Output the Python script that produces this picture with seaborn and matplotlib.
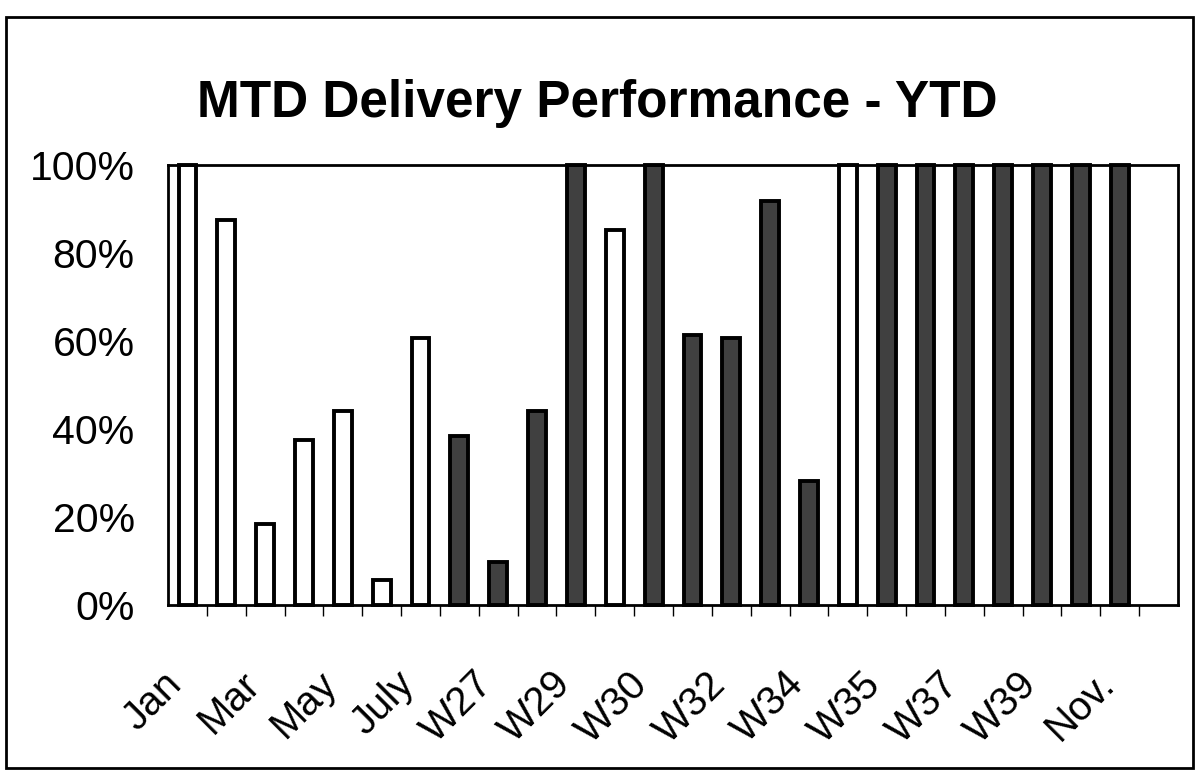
import numpy as np
import pandas as pd
import matplotlib
matplotlib.use("Agg")
import matplotlib.pyplot as plt
import matplotlib.transforms as mtransforms
from matplotlib.patches import Rectangle
import seaborn as sns

# categories along the x axis (only every other label is shown, like Excel did)
categories = ["Jan", "Feb", "Mar", "Apr", "May", "June", "July",
              "W26", "W27", "W28", "W29", "Aug", "W30", "W31", "W32",
              "W33", "W34", "Sept", "W35", "W36", "W37", "W38", "W39",
              "Oct", "Nov.", "Dec"]

# MTD delivery performance, percent
performance = [100, 87.5, 18.5, 37.5, 44, 5.7, 60.8,
               38.4, 9.8, 44, 100, 85.3, 100, 61.3, 60.6,
               91.9, 28.1, 100, 100, 100, 100, 100, 100,
               100, 100, np.nan]

# month totals are white, weekly bars are dark
period = ["month"] * 7 + ["week"] * 4 + ["month"] + ["week"] * 5 + \
         ["month"] + ["week"] * 8

ytick_values = [0, 20, 40, 60, 80, 100]
ytick_labels = ["0%", "20%", "40%", "60%", "80%", "100%"]

df = pd.DataFrame({"category": categories,
                   "performance": performance,
                   "period": period})

sns.set_style("white", {"text.color": "black", "xtick.color": "black",
                        "ytick.color": "black", "axes.edgecolor": "black"})
plt.rcParams["font.family"] = ["Liberation Sans", "DejaVu Sans"]

fig = plt.figure(figsize=(11.95, 7.73), dpi=100)
ax = fig.add_axes([0.1406, 0.2173, 0.8452, 0.5692])

sns.barplot(data=df, x="category", y="performance", hue="period",
            order=categories, palette={"month": "white", "week": "#404040"},
            dodge=False, width=0.46, edgecolor="black", linewidth=2.8,
            legend=False, ax=ax)

ax.set_xlim(-0.5, len(categories) - 0.5)
ax.set_ylim(0, 100)
ax.set_xlabel("")
ax.set_ylabel("")

ax.set_yticks(ytick_values)
ax.set_yticklabels(ytick_labels, fontsize=29.5, color="black")
ax.tick_params(axis="y", length=0, pad=24)

# labels only on every other category
ax.set_xticks(range(len(categories)))
ax.set_xticklabels([c if i % 2 == 0 else "" for i, c in enumerate(categories)],
                   fontsize=29, rotation=45, ha="right", va="top",
                   rotation_mode="anchor", color="black")
ax.tick_params(axis="x", which="major", length=0, pad=43)
shift = mtransforms.ScaledTranslation(-25 / 100, 0, fig.dpi_scale_trans)
for lbl in ax.get_xticklabels():
    lbl.set_transform(lbl.get_transform() + shift)

# small tick marks between the categories
ax.set_xticks(np.arange(len(categories) - 1) + 0.5, minor=True)
ax.tick_params(axis="x", which="minor", length=8, width=1, color="black",
               direction="out", bottom=True)

for side in ["left", "right", "top", "bottom"]:
    ax.spines[side].set_visible(True)
    ax.spines[side].set_color("black")
    ax.spines[side].set_linewidth(2)

for p in ax.patches:
    p.set_clip_on(False)

fig.text(0.5, 1 - 103 / 773, "MTD Delivery Performance - YTD",
         ha="center", va="center", fontsize=37, fontweight="bold",
         color="black")

# outer chart border
fig.patches.append(Rectangle((6 / 1195, 1 - 768 / 773),
                             1187 / 1195, 751 / 773,
                             transform=fig.transFigure, fill=False,
                             edgecolor="black", linewidth=2))

fig.savefig("out.png", dpi=100, facecolor="white")
